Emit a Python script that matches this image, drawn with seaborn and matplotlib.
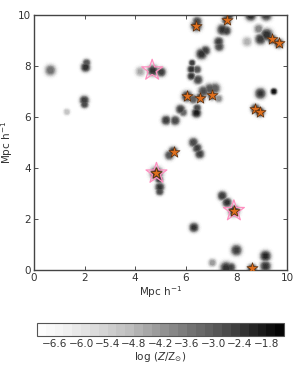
import numpy as np
import seaborn as sns
import matplotlib
matplotlib.use("Agg")
import matplotlib.pyplot as plt

# metal blobs: centre (Mpc/h), peak log(Z/Zsun), width (Mpc/h)
blob_x = [0.65, 2.04, 2.08, 1.99, 2.00, 1.30, 4.20, 4.70, 5.03, 4.84, 4.95, 4.97, 4.97,
          5.35, 5.50, 5.22, 5.58, 5.79, 5.90, 6.25, 6.22, 6.22, 6.45, 6.48, 6.05, 6.30,
          6.42, 6.45, 6.58, 6.70, 6.95, 7.15, 7.04, 7.30, 6.42, 6.45, 6.62, 6.78, 7.30,
          7.32, 7.45, 7.60, 7.61, 7.72, 8.56, 9.18, 8.42, 8.88, 9.20, 8.95, 9.41, 9.68,
          8.95, 9.48, 8.75, 8.93, 6.30, 6.45, 6.55, 7.44, 7.63, 7.90, 6.32, 8.00, 7.05,
          7.60, 7.78, 8.62, 9.15, 9.15]
blob_y = [7.83, 7.95, 8.12, 6.65, 6.50, 6.20, 7.78, 7.82, 7.76, 3.79, 3.55, 3.25, 3.08,
          4.50, 4.65, 5.87, 5.86, 6.30, 6.18, 8.12, 7.87, 7.60, 7.86, 7.46, 6.81, 6.70,
          6.16, 6.35, 6.76, 7.00, 7.10, 7.12, 6.85, 6.72, 9.57, 9.74, 8.47, 8.60, 8.95,
          8.76, 9.42, 9.38, 9.80, 9.98, 9.98, 9.98, 8.95, 9.45, 9.22, 9.05, 9.04, 8.88,
          6.92, 7.00, 6.32, 6.19, 5.00, 4.78, 4.55, 2.91, 2.65, 2.32, 1.67, 0.78, 0.29,
          0.08, 0.10, 0.05, 0.55, 0.15]
blob_logz = [-3.4, -2.2, -2.8, -2.4, -2.6, -5.0, -4.5, -2.3, -2.4, -2.0, -2.5, -2.3, -2.6,
             -2.8, -2.4, -2.4, -2.6, -2.5, -3.2, -2.4, -2.2, -2.3, -2.8, -2.6, -2.2, -3.0,
             -1.9, -2.6, -2.4, -2.7, -2.8, -3.0, -2.5, -4.0, -2.2, -2.6, -2.2, -2.5, -2.5,
             -2.7, -2.3, -2.4, -2.6, -2.4, -2.2, -2.5, -4.6, -3.8, -2.2, -2.4, -2.2, -2.3,
             -2.3, -1.7, -2.3, -2.2, -2.6, -2.5, -2.5, -2.4, -2.3, -2.1, -2.3, -2.5, -4.2,
             -2.2, -2.5, -2.3, -2.1, -2.3]
blob_w = [0.07, 0.06, 0.05, 0.06, 0.05, 0.04, 0.06, 0.07, 0.06, 0.08, 0.05, 0.06, 0.05,
          0.06, 0.06, 0.06, 0.06, 0.06, 0.05, 0.04, 0.05, 0.05, 0.05, 0.06, 0.07, 0.06,
          0.06, 0.05, 0.06, 0.07, 0.07, 0.07, 0.06, 0.05, 0.07, 0.06, 0.07, 0.06, 0.06,
          0.06, 0.07, 0.06, 0.06, 0.05, 0.07, 0.07, 0.06, 0.06, 0.08, 0.07, 0.06, 0.06,
          0.07, 0.04, 0.06, 0.06, 0.06, 0.06, 0.06, 0.06, 0.06, 0.07, 0.06, 0.07, 0.05,
          0.08, 0.06, 0.06, 0.07, 0.07]

# galaxies (filled) and highlighted haloes (open)
gal_x = [4.84, 5.53, 6.05, 6.58, 7.04, 6.42, 7.61, 9.41, 9.68, 8.75, 8.93, 7.90, 8.62]
gal_y = [3.79, 4.62, 6.81, 6.76, 6.85, 9.57, 9.80, 9.04, 8.88, 6.32, 6.19, 2.32, 0.09]
halo_x = [4.67, 4.84, 7.90]
halo_y = [7.83, 3.79, 2.32]

cbar_ticks = [-6.6, -6.0, -5.4, -4.8, -4.2, -3.6, -3.0, -2.4, -1.8]
zmin, zmax = -7.0, -1.4

sns.set_style("ticks")
plt.rcParams["font.family"] = ["DejaVu Sans"]
plt.rcParams["font.size"] = 7.5
plt.rcParams["text.color"] = "#333333"
plt.rcParams["axes.labelcolor"] = "#333333"
plt.rcParams["xtick.color"] = "#333333"
plt.rcParams["ytick.color"] = "#333333"

# metallicity field from the blob list: soft fall-off in grey level
g = np.linspace(0, 10, 500)
gx, gy = np.meshgrid(g, g)
f = np.zeros_like(gx)
for bx, by, bz, bw in zip(blob_x, blob_y, blob_logz, blob_w):
    r2 = ((gx - bx) ** 2 + (gy - by) ** 2) / (2 * (2.2 * bw) ** 2)
    f = np.maximum(f, (bz - zmin) * np.exp(-r2 ** 1.4))
logz = np.clip(zmin + f, zmin, zmax - 0.01)
logz = np.ma.masked_less(logz, zmin + 0.05)

fig = plt.figure(figsize=(3.06, 3.82), dpi=100)
ax = fig.add_axes([0.111, 0.293, 0.827, 0.668])
levels = np.arange(zmin, zmax + 0.01, 0.2)
cs = ax.contourf(gx, gy, logz, levels=levels, cmap="Greys")

ax.scatter(halo_x, halo_y, marker="*", s=250, facecolors="none",
           edgecolors="#ff8fc0", linewidths=0.9, zorder=3)
sns.scatterplot(x=gal_x, y=gal_y, marker="*", s=70, color="#e0701e",
                edgecolor="#5a3010", linewidth=0.5, ax=ax, zorder=4)

ax.set_xlim(0, 10)
ax.set_ylim(0, 10)
ax.set_xticks([0, 2, 4, 6, 8, 10])
ax.set_yticks([0, 2, 4, 6, 8, 10])
ax.tick_params(direction="in", top=True, right=True, length=3, width=0.6, pad=2)
for sp in ax.spines.values():
    sp.set_color("#444444")
    sp.set_linewidth(1.0)
ax.set_xlabel(r"Mpc h$^{-1}$", labelpad=1)
ax.set_ylabel(r"Mpc h$^{-1}$", labelpad=2)

cax = fig.add_axes([0.121, 0.120, 0.807, 0.034])
cb = fig.colorbar(cs, cax=cax, orientation="horizontal", ticks=cbar_ticks)
cb.ax.set_xticklabels([f"{t:.1f}".replace("-", "\u2212") for t in cbar_ticks])
cb.ax.tick_params(direction="in", top=True, bottom=False, length=3, width=0.5, pad=2)
cb.outline.set_edgecolor("#555555")
cb.set_label(r"log $(Z/{\rm Z}_{\odot})$", labelpad=1)

fig.savefig("out.png", dpi=100)
